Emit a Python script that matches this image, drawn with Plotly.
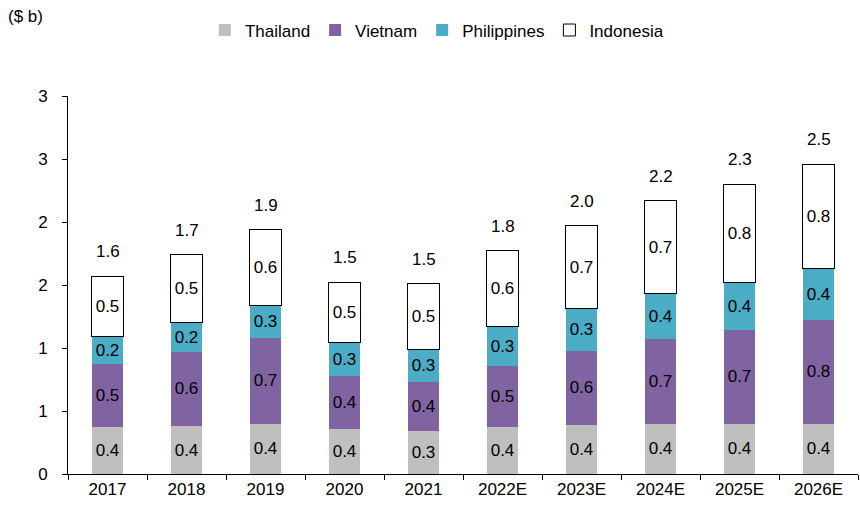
import plotly.graph_objects as go

# data ($ b)
years = ['2017', '2018', '2019', '2020', '2021', '2022E', '2023E', '2024E', '2025E', '2026E']
thailand = [0.37, 0.38, 0.40, 0.36, 0.34, 0.37, 0.39, 0.40, 0.40, 0.40]
vietnam = [0.50, 0.59, 0.68, 0.42, 0.39, 0.49, 0.59, 0.67, 0.74, 0.82]
philippines = [0.22, 0.23, 0.26, 0.26, 0.26, 0.31, 0.33, 0.36, 0.38, 0.41]
indonesia = [0.48, 0.54, 0.60, 0.48, 0.52, 0.60, 0.66, 0.74, 0.78, 0.83]

y_tickvals = [0, 0.5, 1, 1.5, 2, 2.5, 3]
y_ticktext = ['0', '1', '1', '2', '2', '3', '3']

FONT = 'Liberation Sans, Arial, sans-serif'

series = [
    ('Thailand', thailand, '#BFBFBF', 0),
    ('Vietnam', vietnam, '#8064A2', 0),
    ('Philippines', philippines, '#4BACC6', 0),
    ('Indonesia', indonesia, '#FFFFFF', 1),
]

fig = go.Figure()
for name, vals, color, lw in series:
    fig.add_trace(go.Bar(
        x=years, y=vals, name=name,
        marker=dict(color=color, line=dict(color='black', width=lw)),
        texttemplate='%{y:.1f}', textposition='inside',
        insidetextanchor='middle', textangle=0,
        textfont=dict(family=FONT, size=17, color='black'),
        constraintext='none',
    ))

# total labels above each bar (x given as category index, '2017' would be read as a number)
totals = [a + b + c + d for a, b, c, d in zip(thailand, vietnam, philippines, indonesia)]
for i, tot in enumerate(totals):
    fig.add_annotation(x=i, y=tot, text=f'{tot:.1f}', showarrow=False,
                       yanchor='bottom', yshift=13,
                       font=dict(family=FONT, size=17, color='black'))

fig.add_annotation(xref='paper', yref='paper', x=-0.078, y=1.24,
                   xanchor='left', yanchor='top', text='($ b)', showarrow=False,
                   font=dict(family=FONT, size=17, color='black'))

fig.update_layout(
    width=860, height=508,
    barmode='stack', bargap=0.6,
    plot_bgcolor='white', paper_bgcolor='white',
    margin=dict(l=68, r=2, t=96, b=34, autoexpand=False),
    font=dict(family=FONT, size=17, color='black'),
    showlegend=True,
    legend=dict(orientation='h', xref='container', yref='container',
                x=0.508, xanchor='center', y=0.94, yanchor='middle',
                font=dict(family=FONT, size=17), itemwidth=30, traceorder='normal'),
    xaxis=dict(type='category', categoryorder='array', categoryarray=years,
               showline=True, linecolor='black', linewidth=1,
               ticks='outside', tickson='boundaries', ticklen=5, tickcolor='black',
               tickfont=dict(family=FONT, size=17), automargin=False),
    yaxis=dict(range=[0, 3], tickvals=y_tickvals, ticktext=y_ticktext,
               showline=True, linecolor='black', linewidth=1, ticks='outside',
               ticklen=5, tickcolor='black', showgrid=False, zeroline=False,
               tickfont=dict(family=FONT, size=17), ticklabelstandoff=11,
               automargin=False),
)

fig.write_html('out.html', config={'displayModeBar': False},
               post_script="document.body.style.margin='0';")
